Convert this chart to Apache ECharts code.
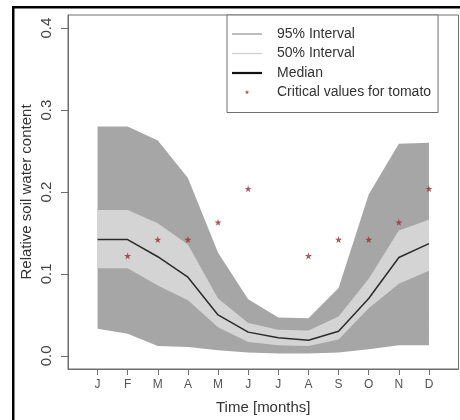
<!DOCTYPE html>
<html>
<head>
<meta charset="utf-8">
<script src="https://cdn.jsdelivr.net/npm/echarts@6/dist/echarts.min.js"></script>
<style>html,body{margin:0;padding:0;background:#fff;}#c{width:460px;height:420px;}</style>
</head>
<body>
<div id="c"></div>
<script>
var months = ['J','F','M','A','M','J','J','A','S','O','N','D'];
var monthPos = [1,2,3,4,5,6,7,8,9,10,11,12];
var yTicks = [0, 0.1, 0.2, 0.3, 0.4];
var lower95 = [0.033, 0.027, 0.012, 0.011, 0.007, 0.004, 0.003, 0.003, 0.004, 0.008, 0.013, 0.013];
var upper95 = [0.280, 0.280, 0.263, 0.217, 0.126, 0.069, 0.047, 0.046, 0.083, 0.197, 0.259, 0.260];
var lower50 = [0.107, 0.107, 0.086, 0.068, 0.035, 0.017, 0.013, 0.012, 0.020, 0.058, 0.088, 0.104];
var upper50 = [0.178, 0.178, 0.162, 0.136, 0.070, 0.040, 0.032, 0.031, 0.048, 0.094, 0.153, 0.166];
var median  = [0.142, 0.142, 0.121, 0.096, 0.050, 0.029, 0.022, 0.019, 0.030, 0.070, 0.120, 0.137];
var critMonths = [2, 3, 4, 5, 6, 8, 9, 10, 11, 12];
var critValues = [0.122, 0.142, 0.142, 0.163, 0.204, 0.122, 0.142, 0.142, 0.163, 0.204];

var DARK = '#a6a6a6', LIGHT = '#d4d4d4', STAR = '#9a2a3a';
var starPath = 'path://M50,0 L61,35 L98,35 L68,57 L79,91 L50,70 L21,91 L32,57 L2,35 L39,35 Z';
var starSmall = 'path://M0,0 M100,100 M50,30 L54,43 L67,43 L56,51 L60,63 L50,56 L40,63 L44,51 L33,43 L46,43 Z';
var thinLine = 'path://M0,0 H300 V13 H0 Z';
var thickLine = 'path://M0,0 H300 V22 H0 Z';

function bandData(lo, hi){ return monthPos.map(function(x,i){ return [x, lo[i], hi[i]]; }); }
function bandRender(lo, hi, color){
  return function(params, api){
    if (params.dataIndex !== 0) return null;
    var pts = [];
    for (var i = 0; i < monthPos.length; i++) pts.push(api.coord([monthPos[i], hi[i]]));
    for (var j = monthPos.length - 1; j >= 0; j--) pts.push(api.coord([monthPos[j], lo[j]]));
    return { type: 'polygon', shape: { points: pts }, style: { fill: color, stroke: null } };
  };
}

var chart = echarts.init(document.getElementById('c'), null, {renderer:'canvas'});
var font = 'Liberation Sans, Arial, sans-serif';
chart.setOption({
  animation: false,
  backgroundColor: '#ffffff',
  grid: { left: 68, right: 1.5, top: 15, bottom: 50, show: true, borderColor: '#6e6e6e', borderWidth: 1, backgroundColor: '#ffffff' },
  graphic: [{ type: 'rect', left: 12, top: 6, shape: { width: 700, height: 700 }, style: { fill: 'transparent', stroke: '#000', lineWidth: 2.5 }, silent: true, z: 100 }],
  legend: {
    left: 227, top: 15, orient: 'vertical',
    backgroundColor: '#fff', borderColor: '#6e6e6e', borderWidth: 1,
    padding: [12, 7, 13, 5], itemGap: 5.5, itemWidth: 30, itemHeight: 14,
    textStyle: { fontFamily: font, fontSize: 14, color: '#333', padding: [0,0,0,10] },
    data: [
      { name: '95% Interval', icon: thinLine, itemStyle: { color: '#999' } },
      { name: '50% Interval', icon: thinLine, itemStyle: { color: '#cfcfcf' } },
      { name: 'Median', icon: thickLine, itemStyle: { color: '#111' } },
      { name: 'Critical values for tomato', icon: starSmall, itemStyle: { color: STAR } }
    ]
  },
  xAxis: {
    type: 'value', min: 0.02, max: 12.98,
    name: 'Time [months]', nameLocation: 'middle', nameGap: 31,
    nameTextStyle: { fontFamily: font, fontSize: 15, color: '#333' },
    axisLine: { show: true, onZero: false, lineStyle: { color: '#6e6e6e' } },
    axisTick: { show: true, length: 6, lineStyle: { color: '#6e6e6e' }, customValues: monthPos },
    axisLabel: { customValues: monthPos, margin: 10, fontFamily: font, fontSize: 12, color: '#555',
      formatter: function(v){ return months[Math.round(v)-1] || ''; } },
    splitLine: { show: false }
  },
  yAxis: {
    type: 'value', min: -0.016, max: 0.416,
    name: 'Relative soil water content', nameLocation: 'middle', nameGap: 34, nameMoveOverlap: false,
    nameTextStyle: { fontFamily: font, fontSize: 15, color: '#333' },
    axisLine: { show: true, onZero: false, lineStyle: { color: '#6e6e6e' } },
    axisTick: { show: true, length: 7, lineStyle: { color: '#6e6e6e' }, customValues: yTicks },
    axisLabel: { customValues: yTicks, rotate: 90, margin: 14, fontFamily: font, fontSize: 15, color: '#444',
      formatter: function(v){ return v.toFixed(1); } },
    splitLine: { show: false }
  },
  series: [
    { type: 'custom', name: '95% Interval', data: bandData(lower95, upper95), encode: { x: 0, y: [1, 2] },
      renderItem: bandRender(lower95, upper95, DARK), itemStyle: { color: DARK }, z: 1 },
    { type: 'custom', name: '50% Interval', data: bandData(lower50, upper50), encode: { x: 0, y: [1, 2] },
      renderItem: bandRender(lower50, upper50, LIGHT), itemStyle: { color: LIGHT }, z: 2 },
    { type: 'line', name: 'Median', data: monthPos.map(function(x,i){ return [x, median[i]]; }), symbol: 'none',
      lineStyle: { color: '#2b2b2b', width: 1.5 }, itemStyle: { color: '#111' }, z: 3 },
    { type: 'scatter', name: 'Critical values for tomato', data: critValues.map(function(v,i){ return [critMonths[i], v]; }),
      symbol: starPath, symbolSize: 7, itemStyle: { color: STAR }, z: 4 }
  ]
});
</script>
</body>
</html>
